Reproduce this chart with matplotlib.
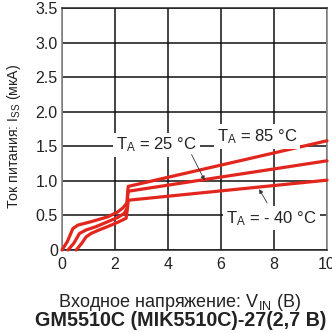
import matplotlib
matplotlib.use("Agg")
import matplotlib.pyplot as plt

plt.rcParams['font.family'] = ['Liberation Sans', 'DejaVu Sans']
plt.rcParams['mathtext.fontset'] = 'custom'
plt.rcParams['mathtext.rm'] = 'Liberation Sans'
plt.rcParams['mathtext.it'] = 'Liberation Sans:italic'
plt.rcParams['mathtext.bf'] = 'Liberation Sans:bold'

# Supply current vs input voltage for three ambient temperatures
x_85 = [0.0, 0.2, 0.41, 0.6, 0.8, 1.1, 1.73, 2.1, 2.3, 2.45, 2.48, 2.5, 10.0]
i_85 = [0.0, 0.12, 0.31, 0.36, 0.38, 0.41, 0.48, 0.55, 0.61, 0.68, 0.85, 0.92, 1.58]

x_25 = [0.23, 0.45, 0.66, 0.91, 1.3, 1.73, 2.1, 2.35, 2.45, 2.48, 2.5, 10.0]
i_25 = [0.0, 0.1, 0.24, 0.29, 0.34, 0.41, 0.47, 0.53, 0.6, 0.78, 0.85, 1.29]

x_m40 = [0.54, 0.75, 0.91, 1.1, 1.4, 1.73, 2.1, 2.42, 2.47, 2.5, 10.0]
i_m40 = [0.0, 0.1, 0.19, 0.24, 0.29, 0.34, 0.40, 0.46, 0.6, 0.72, 1.01]

x_ticks = [0, 2, 4, 6, 8, 10]
y_ticks = [0, 0.5, 1.0, 1.5, 2.0, 2.5, 3.0, 3.5]
y_tick_labels = ["0", "0.5", "1.0", "1.5", "2.0", "2.5", "3.0", "3.5"]

RED = "#e2261e"
INK = "#222222"

fig = plt.figure(figsize=(3.32, 3.33), dpi=100)
ax = fig.add_axes([0.1867, 0.2492, 0.7983, 0.7268])

for xs, ys in [(x_85, i_85), (x_25, i_25), (x_m40, i_m40)]:
    ax.plot(xs, ys, color=RED, lw=2.3, solid_joinstyle='round',
            solid_capstyle='round', zorder=3, clip_on=False)

ax.set_xlim(0, 10)
ax.set_ylim(0, 3.5)
ax.set_xticks(x_ticks)
ax.set_yticks(y_ticks)
ax.set_yticklabels(y_tick_labels)
ax.tick_params(length=0, labelsize=11.5, colors=INK)
ax.tick_params(axis='x', pad=5)
ax.tick_params(axis='y', pad=3)
ax.grid(True, color="#111111", lw=1.1, zorder=1)

for side in ['left', 'right']:
    ax.spines[side].set_color("#8a8a8a")
    ax.spines[side].set_linewidth(1.2)
for side in ['top', 'bottom']:
    ax.spines[side].set_color(INK)
    ax.spines[side].set_linewidth(1.1)

ax.set_ylabel(r"Ток питания: I$_\mathrm{SS}$ (мкА)", fontsize=10.2,
              color=INK)
ax.yaxis.set_label_coords(-0.147, 0.47)
fig.text(0.542, 0.093, r"Входное напряжение: V$_\mathrm{IN}$ (В)",
         fontsize=13, ha='center', va='center', color=INK)
fig.text(0.544, 0.039, "GM5510C (MIK5510C)-27(2,7 В)", fontsize=14.2,
         fontweight='bold', ha='center', va='center', color=INK)

box = dict(facecolor='white', edgecolor='none', pad=2)
ax.text(3.57, 1.52, r"T$_\mathrm{A}$ = 25 °C", fontsize=12, ha='center',
        va='center', color=INK, bbox=box, zorder=4)
ax.text(7.37, 1.64, r"T$_\mathrm{A}$ = 85 °C", fontsize=12, ha='center',
        va='center', color=INK, bbox=box, zorder=4)
ax.text(7.9, 0.46, r"T$_\mathrm{A}$ = - 40 °C", fontsize=12, ha='center',
        va='center', color=INK, bbox=box, zorder=4)

arrow = dict(arrowstyle='-|>', color="#333333", lw=0.6,
             mutation_scale=6, shrinkA=0, shrinkB=0)
ax.annotate("", xy=(5.38, 1.01), xytext=(4.89, 1.38), arrowprops=arrow, zorder=5)
ax.annotate("", xy=(7.44, 0.88), xytext=(7.74, 0.68), arrowprops=arrow, zorder=5)

fig.savefig("out.png", dpi=100)
